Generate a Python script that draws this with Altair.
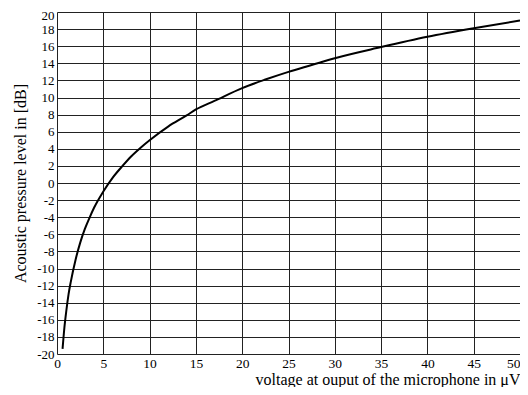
import altair as alt
import pandas as pd

voltage = [0.6, 0.8, 1.0, 1.25, 1.5, 2.0, 2.5, 3.0, 3.5, 4.0, 5.0, 6.0, 7.0, 8.0, 9.0, 10.0,
           12.0, 14.0, 15.0, 17.0, 20.0, 22.5, 25.0, 27.5, 30.0, 35.0, 40.0, 45.0, 50.0]
level = [-19.4, -16.9, -15.0, -13.0, -11.5, -9.0, -7.0, -5.4, -4.1, -2.9, -1.0, 0.6, 1.9, 3.1, 4.1, 5.0,
         6.6, 7.9, 8.6, 9.6, 11.1, 12.1, 13.0, 13.8, 14.6, 15.9, 17.1, 18.1, 19.0]

x_ticks = list(range(0, 51, 5))
y_ticks = list(range(-20, 21, 2))

df = pd.DataFrame({"v": voltage, "db": level})

font = "Liberation Serif, Times New Roman, serif"

chart = alt.Chart(df).mark_line(color="black", strokeWidth=2, interpolate="monotone").encode(
    x=alt.X("v:Q", scale=alt.Scale(domain=[0, 50], nice=False),
            axis=alt.Axis(values=x_ticks, title="voltage at ouput of the microphone in μV",
                          titleAnchor="end", titleAlign="right", titleFontWeight="normal",
                          titleFontSize=16, titleFont=font, titlePadding=2,
                          labelFont=font, labelFontSize=13.5, labelColor="black",
                          labelPadding=2, ticks=False, domain=False,
                          labelAlign=alt.expr("datum.value == 50 ? 'right' : 'center'"),
                          grid=True, gridColor="#222222", gridOpacity=1, gridWidth=1,
                          labelFlush=False, labelOverlap=False)),
    y=alt.Y("db:Q", scale=alt.Scale(domain=[-20, 20], nice=False),
            axis=alt.Axis(values=y_ticks, title="Acoustic pressure level in [dB]",
                          titleFontWeight="normal", titleFontSize=16, titleFont=font,
                          titlePadding=8,
                          labelFont=font, labelFontSize=13, labelColor="black",
                          labelPadding=3, ticks=False, domain=False,
                          labelOffset=alt.expr("datum.value == 20 ? 3 : 0"),
                          labelExpr="datum.value + ''",
                          grid=True, gridColor="#222222", gridOpacity=1, gridWidth=1,
                          labelFlush=False, labelOverlap=False)),
).properties(
    width=463, height=342,
    autosize=alt.AutoSizeParams(type="none"),
    padding={"left": 49, "top": 4, "right": 0, "bottom": 33},
).configure_view(stroke="black", strokeWidth=1.5).configure(background="white")

chart.save("out.html", embed_options={"renderer": "svg", "actions": False})
